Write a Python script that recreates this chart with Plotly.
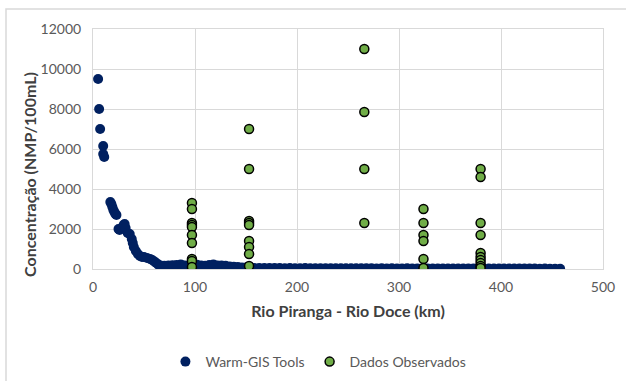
import plotly.graph_objects as go

# Warm-GIS Tools simulated profile (km, NMP/100mL)
sim_km = [5, 6, 7, 10, 10, 11, 17, 18, 19, 20, 21, 22, 23, 25, 26, 28, 30, 31, 32, 34,
          36, 38, 39, 40, 42, 44, 46, 48, 50, 53, 56, 58, 60, 62, 64, 66, 70, 74, 78, 82,
          86, 90, 94, 98, 102, 106, 110, 114, 118, 122, 126, 130, 134, 138, 142, 146, 150, 154, 158, 163,
          168, 173, 178, 183, 188, 193, 198, 203, 208, 213, 218, 223, 228, 233, 238, 243, 248, 253, 258, 263,
          268, 273, 278, 283, 288, 293, 298, 303, 308, 313, 318, 323, 328, 333, 338, 343, 348, 353, 358, 363,
          368, 373, 378, 383, 388, 393, 398, 403, 408, 413, 418, 423, 428, 433, 438, 443, 448, 453, 458]
sim_conc = [9500, 8000, 7000, 6150, 5750, 5600, 3350, 3250, 3100, 2950, 2850, 2750, 2700, 2000, 1950, 2050, 2200, 2250, 2050, 1800,
            1750, 1500, 1300, 1100, 900, 750, 650, 600, 600, 550, 500, 450, 380, 300, 220, 180, 160, 170, 190, 200,
            230, 180, 170, 190, 210, 180, 160, 200, 230, 180, 170, 160, 130, 110, 100, 80, 70, 60, 55, 50,
            50, 45, 50, 45, 40, 45, 40, 40, 45, 40, 40, 35, 40, 40, 35, 40, 35, 35, 40, 35,
            35, 35, 30, 35, 30, 35, 30, 30, 35, 30, 30, 30, 30, 25, 30, 30, 25, 30, 25, 25,
            30, 25, 25, 25, 20, 25, 20, 25, 20, 20, 20, 20, 20, 20, 15, 20, 15, 15, 15]

# Observed data
obs_km = [97] * 10 + [153] * 9 + [266] * 4 + [324] * 6 + [380] * 10
obs_conc = [3300, 3000, 2300, 2200, 2100, 1700, 1300, 500, 400, 100,
            7000, 5000, 2400, 2300, 2200, 1400, 1100, 750, 150,
            11000, 7850, 5000, 2300,
            3000, 2300, 1700, 1400, 500, 50,
            5000, 4600, 2300, 1700, 800, 600, 450, 300, 150, 50]

FONT = "Lato"
GRID = "#d9d9d9"

fig = go.Figure()
fig.add_trace(go.Scatter(
    x=sim_km, y=sim_conc, mode="markers", name="Warm-GIS Tools",
    marker=dict(color="#002060", size=10, line=dict(width=0)),
))
fig.add_trace(go.Scatter(
    x=obs_km, y=obs_conc, mode="markers", name="Dados Observados",
    marker=dict(color="#70ad47", size=9, line=dict(color="#000000", width=1.5)),
))

fig.update_xaxes(
    range=[0, 500], dtick=100, showgrid=True, gridcolor=GRID, gridwidth=1,
    showline=True, linecolor=GRID, linewidth=1, mirror=True, zeroline=False,
    tickfont=dict(family=FONT, size=14, color="#595959"), ticklabelstandoff=5,
    automargin=False,
    title=dict(text="<b>Rio Piranga - Rio Doce (km)</b>", standoff=12,
               font=dict(family=FONT, size=16, color="#404040")),
)
fig.update_yaxes(
    range=[0, 12000], dtick=2000, tickformat="d", showgrid=True, gridcolor=GRID, gridwidth=1,
    showline=True, linecolor=GRID, linewidth=1, mirror=True, zeroline=False,
    tickfont=dict(family=FONT, size=14, color="#595959"), ticklabelstandoff=8,
    automargin=False,
)

fig.update_layout(
    width=626, height=381,
    margin=dict(l=93, r=23, t=29, b=112),
    plot_bgcolor="white", paper_bgcolor="white",
    showlegend=True,
    legend=dict(orientation="h", x=0.442, xanchor="center",
                yref="container", y=(381 - 362) / 381, yanchor="middle",
                font=dict(family=FONT, size=14, color="#595959"),
                itemwidth=30),
    annotations=[dict(text="<b>Concentração (NMP/100mL)</b>", textangle=-90,
                      xref="paper", yref="paper", x=(30 - 93) / 510, y=0.392,
                      xanchor="center", yanchor="middle", showarrow=False,
                      font=dict(family=FONT, size=16, color="#404040"))],
    shapes=[dict(type="rect", xref="paper", yref="paper",
                 x0=-0.1706, x1=1.2, y0=-0.6, y1=1.0833,
                 line=dict(color=GRID, width=1.5), layer="below")],
)

# page body has a default 8px margin; drop it so the figure sits at the origin
fig.write_html("out.html", config={"displayModeBar": False},
               post_script="document.body.style.margin='0';")
